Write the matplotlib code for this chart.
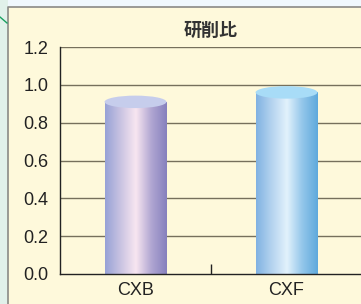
import numpy as np
import matplotlib
matplotlib.use("Agg")
import matplotlib.pyplot as plt
from matplotlib.patches import Rectangle, Ellipse
from matplotlib.lines import Line2D
from matplotlib.colors import LinearSegmentedColormap

categories = ["CXB", "CXF"]
values = [0.91, 0.96]
yticks = [0.0, 0.2, 0.4, 0.6, 0.8, 1.0, 1.2]
title = "研削比"

grad_colors = [
    ["#97a2d6", "#c9c3e2", "#f8e6f1", "#b0a6d2", "#8680bd"],
    ["#80b2e2", "#b4d3ef", "#e2f2fc", "#93c6ea", "#5ea9dc"],
]
top_colors = ["#c6cdec", "#a8dcf7"]

W, H = 361, 304
fig = plt.figure(figsize=(W / 100, H / 100), dpi=100)
fig.patch.set_facecolor("#f0f8fd")

# outer strips and panel
fig.patches.append(Rectangle((0, 0), 8 / W, 1, transform=fig.transFigure,
                             facecolor="#e1f1ea", edgecolor="none", zorder=-10))
fig.patches.append(Rectangle((8 / W, 0), 1, 1 - 7 / H, transform=fig.transFigure,
                             facecolor="#fef9db", edgecolor="none", zorder=-10))
fig.lines.append(Line2D([8 / W, 8 / W, 1], [0, 1 - 7 / H, 1 - 7 / H],
                        transform=fig.transFigure, color="#8a8a86", lw=1.2,
                        zorder=-5))
fig.lines.append(Line2D([0, 7 / W], [1 - 17 / H, 1 - 23 / H],
                        transform=fig.transFigure, color="#1aa060", lw=1.0,
                        zorder=-5))

ax = fig.add_axes([60 / W, 30 / H, (W + 1 - 60) / W, (274 - 47) / H])
ax.set_zorder(1)
ax.set_facecolor("none")
ax.set_xlim(-0.5, 1.5)
ax.set_ylim(0, 1.2)

for y in yticks[1:]:
    ax.axhline(y, color="#76705c", lw=1.0, zorder=1)

x = np.arange(len(categories))
bw = 0.41
bars = ax.bar(x, values, width=bw, color="none", edgecolor="none", zorder=2)
ell_h = 0.066
for i, b in enumerate(bars):
    cmap = LinearSegmentedColormap.from_list("g%d" % i, grad_colors[i])
    grad = np.linspace(0, 1, 256).reshape(1, -1)
    x0 = b.get_x()
    im = ax.imshow(grad, cmap=cmap, aspect="auto",
                   extent=[x0, x0 + bw, 0, values[i]], zorder=2,
                   interpolation="bilinear")
    clip = Rectangle((x0, 0), bw, values[i], transform=ax.transData)
    im.set_clip_path(clip)
    ax.add_patch(Ellipse((x[i], values[i]), bw, ell_h, facecolor=top_colors[i],
                         edgecolor="none", zorder=3))
ax.set_xlim(-0.5, 1.5)
ax.set_ylim(0, 1.2)

for s in ["top", "right"]:
    ax.spines[s].set_visible(False)
for s in ["left", "bottom"]:
    ax.spines[s].set_color("#222222")
    ax.spines[s].set_linewidth(1.0)
ax.spines["left"].set_bounds(0, 1.2)

ax.set_yticks(yticks)
ax.set_yticklabels(["%.1f" % v for v in yticks], fontsize=13,
                   family="Liberation Sans", color="#222222")
ax.tick_params(axis="y", length=0, pad=8.5)
ax.set_xticks(x)
ax.set_xticklabels(categories, fontsize=13, family="Liberation Sans",
                   color="#222222")
ax.tick_params(axis="x", length=0, pad=6)
ax.set_xticks([0.5], minor=True)
ax.tick_params(axis="x", which="minor", direction="in", length=7, width=1,
               color="#222222")

fig.text(211 / W, 1 - 30 / H, title, ha="center", va="center", fontsize=13,
         fontweight="bold", family=["Noto Sans CJK JP", "DejaVu Sans"],
         color="#333333")

fig.savefig("out.png", dpi=100)
